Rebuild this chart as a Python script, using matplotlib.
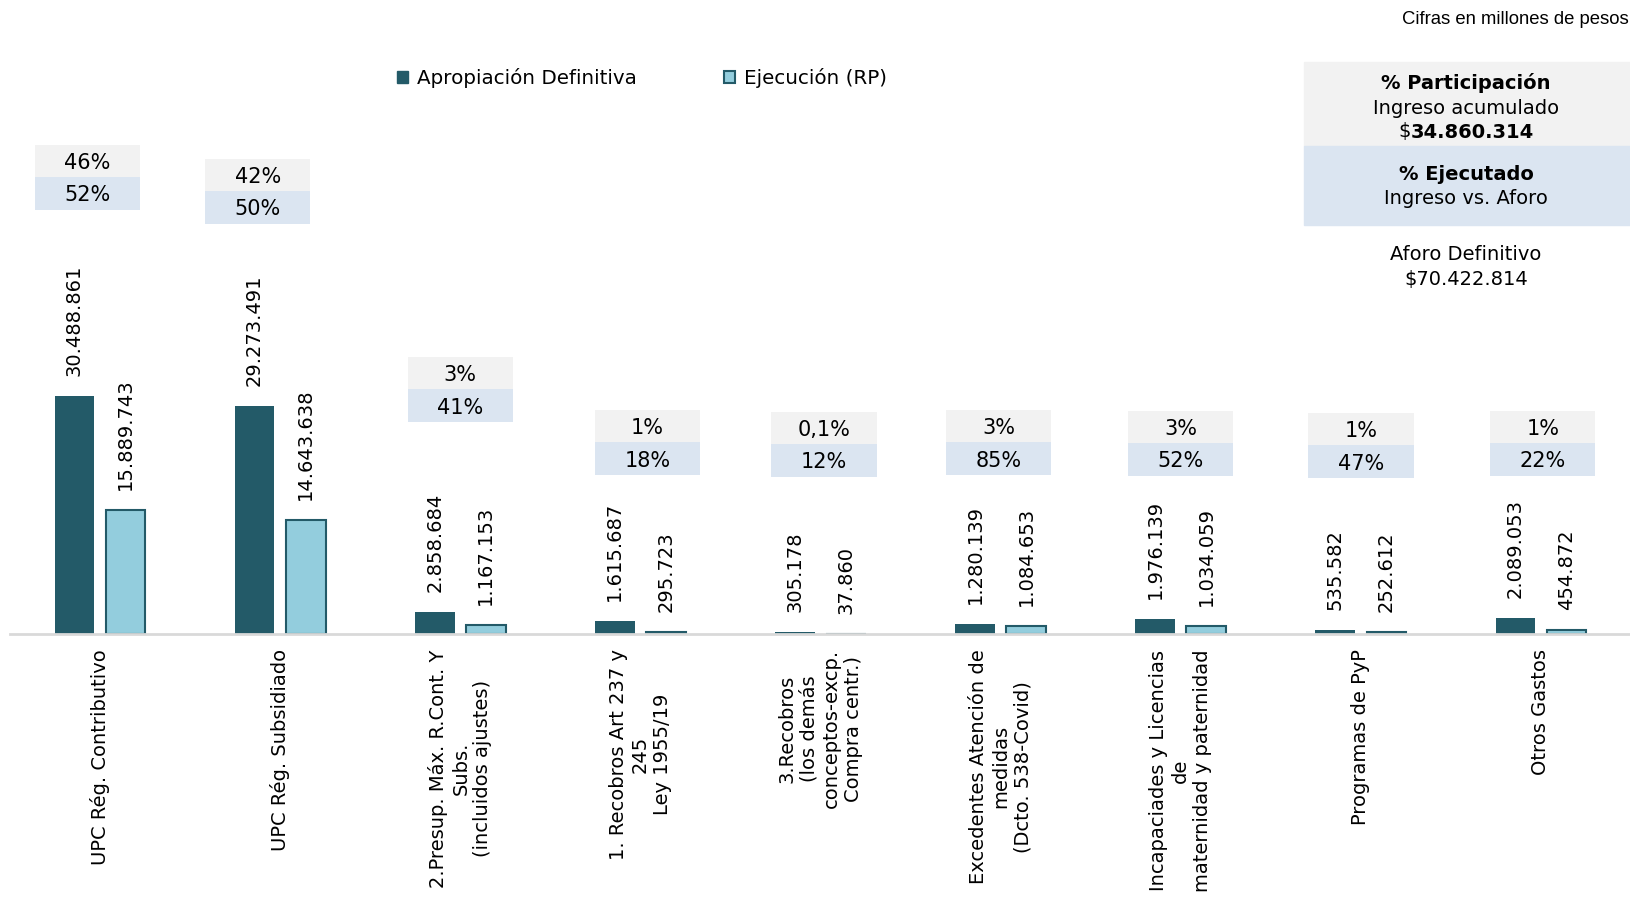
import matplotlib
matplotlib.use("Agg")
import matplotlib.pyplot as plt
from matplotlib.patches import Rectangle, Patch

plt.rcParams["font.family"] = "DejaVu Sans"

# Cifras en millones de pesos
categorias = [
    "UPC Rég. Contributivo",
    "UPC Rég. Subsidiado",
    "2.Presup. Máx. R.Cont. Y\nSubs.\n(incluidos ajustes)",
    "1. Recobros Art 237 y\n245\nLey 1955/19",
    "3.Recobros\n(los demás\nconceptos-excp.\nCompra centr.)",
    "Excedentes Atención de\nmedidas\n(Dcto. 538-Covid)",
    "Incapaciades y Licencias\nde\nmaternidad y paternidad",
    "Programas de PyP",
    "Otros Gastos",
]
apropiacion = [30488861, 29273491, 2858684, 1615687, 305178, 1280139, 1976139, 535582, 2089053]
ejecucion = [15889743, 14643638, 1167153, 295723, 37860, 1084653, 1034059, 252612, 454872]
participacion = ["46%", "42%", "3%", "1%", "0,1%", "3%", "3%", "1%", "1%"]
ejecutado = ["52%", "50%", "41%", "18%", "12%", "85%", "52%", "47%", "22%"]

# where each pair of % boxes sits (layout only)
caja_top = [62.7e6, 60.9e6, 35.5e6, 28.7e6, 28.5e6, 28.7e6, 28.6e6, 28.3e6, 28.6e6]
caja_dx = [-0.07, -0.125, 0, 0.04, 0.02, -0.01, 0, 0, 0.01]

OSCURO = "#235a68"
CLARO = "#93cddd"
GRIS = "#f2f2f2"
AZUL = "#dbe5f1"

W, H = 1631, 899
fig = plt.figure(figsize=(W / 100, H / 100), dpi=100)
ax = fig.add_axes([10 / W, 1 - 634 / H, 1621 / W, 634 / H])

px = 7.8  # pixels per million
ymax = 634 / px * 1e6
ax.set_xlim(-0.5, len(categorias) - 0.5)
ax.set_ylim(0, ymax)

def fmt(v):
    return f"{v:,}".replace(",", ".")

x = range(len(categorias))
ancho = 0.22
gap = 20 / px * 1e6
bw = 0.585
hg = 32 / px * 1e6
hb = 33 / px * 1e6
for i in x:
    ax.bar(i - 0.142, apropiacion[i], ancho, color=OSCURO, zorder=2)
    ax.bar(i + 0.142, ejecucion[i], ancho, color=CLARO, edgecolor=OSCURO, linewidth=1.5, zorder=2)
    ax.text(i - 0.142, apropiacion[i] + gap, fmt(apropiacion[i]), rotation=90,
            ha="center", va="bottom", fontsize=14)
    ax.text(i + 0.142, ejecucion[i] + gap, fmt(ejecucion[i]), rotation=90,
            ha="center", va="bottom", fontsize=14)

    # % boxes
    cx = i + caja_dx[i]
    top = caja_top[i]
    ax.add_patch(Rectangle((cx - bw / 2, top - hg), bw, hg, color=GRIS, lw=0, zorder=1))
    ax.add_patch(Rectangle((cx - bw / 2, top - hg - hb), bw, hb, color=AZUL, lw=0, zorder=1))
    ax.text(cx, top - hg / 2 - 0.25e6, participacion[i], ha="center", va="center", fontsize=15)
    ax.text(cx, top - hg - hb / 2 - 0.25e6, ejecutado[i], ha="center", va="center", fontsize=15)

for s in ["top", "right", "left"]:
    ax.spines[s].set_visible(False)
ax.spines["bottom"].set_color("#d9d9d9")
ax.spines["bottom"].set_linewidth(2)
ax.set_yticks([])
ax.set_xticks(list(x))
ax.set_xticklabels(categorias, rotation=90, fontsize=14, ha="center", va="top",
                   multialignment="center")
ax.tick_params(axis="x", length=0, pad=11)

# legend
handles = [Patch(facecolor=OSCURO, edgecolor=OSCURO, label="Apropiación Definitiva"),
           Patch(facecolor=CLARO, edgecolor=OSCURO, linewidth=1.5, label="Ejecución (RP)")]
fig.legend(handles=handles, loc="center left", bbox_to_anchor=(397 / W, 1 - 78 / H),
           ncol=2, frameon=False, fontsize=14.3, handlelength=0.55, handleheight=0.55,
           handletextpad=0.45, columnspacing=4.4, borderpad=0, borderaxespad=0)

# right-hand info box
fig.patches.append(Rectangle((1304 / W, 1 - 146 / H), 327 / W, 84 / H, color=GRIS,
                             transform=fig.transFigure, zorder=0))
fig.patches.append(Rectangle((1304 / W, 1 - 225 / H), 327 / W, 79 / H, color=AZUL,
                             transform=fig.transFigure, zorder=0))
cx = 1466 / W
fig.text(cx, 1 - 83 / H, "% Participación", ha="center", va="center", fontsize=14, fontweight="bold")
fig.text(cx, 1 - 108 / H, "Ingreso acumulado", ha="center", va="center", fontsize=14)
num = fig.text(cx + 6 / W, 1 - 132 / H, "34.860.314", ha="center", va="center",
               fontsize=14, fontweight="bold")
fig.canvas.draw()
bb = num.get_window_extent()
fig.text(bb.x0 / W, 1 - 132 / H, "$", ha="right", va="center", fontsize=14)
fig.text(cx, 1 - 174 / H, "% Ejecutado", ha="center", va="center", fontsize=14, fontweight="bold")
fig.text(cx, 1 - 198 / H, "Ingreso vs. Aforo", ha="center", va="center", fontsize=14)
fig.text(cx, 1 - 255 / H, "Aforo Definitivo", ha="center", va="center", fontsize=14)
fig.text(cx, 1 - 279 / H, "$70.422.814", ha="center", va="center", fontsize=14)

fig.text(1629 / W, 1 - 20 / H, "Cifras en millones de pesos", ha="right", va="center",
         fontsize=13.3, family="Liberation Sans")

fig.savefig("out.png", dpi=100)
